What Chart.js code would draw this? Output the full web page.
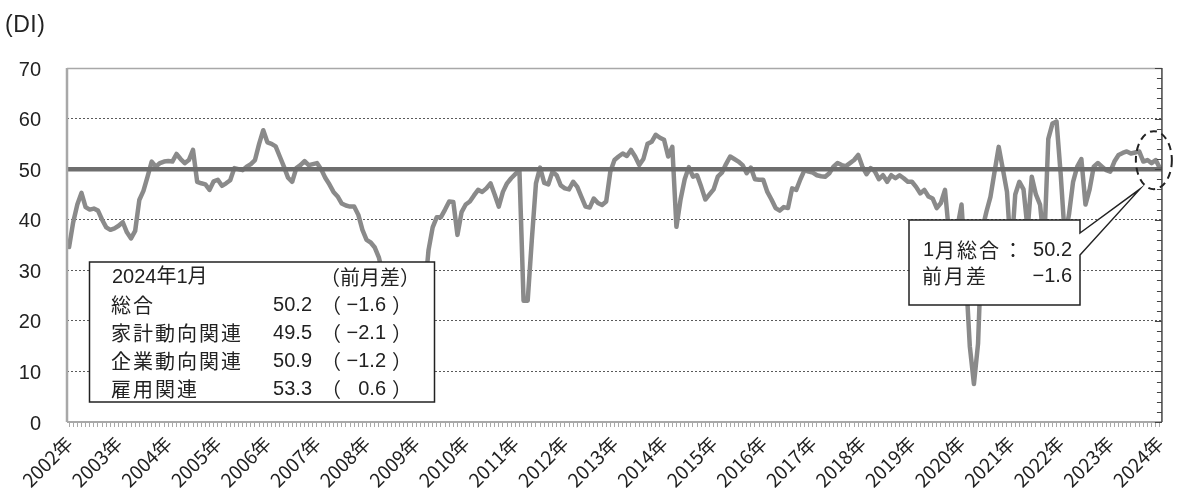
<!DOCTYPE html>
<html>
<head>
<meta charset="utf-8">
<script src="https://cdn.jsdelivr.net/npm/chart.js@4.4.1/dist/chart.umd.min.js"></script>
<style>
  html, body { margin: 0; padding: 0; background: #ffffff; }
  #wrap { position: relative; width: 1181px; height: 488px; }
  #unit { position: absolute; left: 5px; top: 11px; font: 23px "Liberation Sans", "Noto Sans CJK JP", sans-serif; letter-spacing: 0.5px; color: #222; }
</style>
</head>
<body>
<div id="wrap">
  <canvas id="chart" width="1181" height="488"></canvas>
  <div id="unit">(DI)</div>
</div>
<script>
// Year tick labels (one per January)
const yearLabels = ['2002年','2003年','2004年','2005年','2006年','2007年','2008年','2009年',
  '2010年','2011年','2012年','2013年','2014年','2015年','2016年','2017年','2018年','2019年',
  '2020年','2021年','2022年','2023年','2024年'];

// Monthly DI, January..December of each year
const di2002 = [34.6, 39.5, 43.0, 45.3, 42.5, 42.0, 42.2, 41.8, 40.0, 38.5, 38.0, 38.3];
const di2003 = [38.8, 39.5, 37.5, 36.3, 37.8, 43.9, 45.7, 48.5, 51.5, 50.5, 51.2, 51.5];
const di2004 = [51.6, 51.5, 53.0, 52.0, 51.2, 51.8, 53.8, 47.5, 47.2, 47.0, 45.9, 47.6];
const di2005 = [47.9, 46.7, 47.2, 47.8, 50.2, 50.0, 49.8, 50.5, 51.0, 51.8, 55.0, 57.7];
const di2006 = [55.3, 55.0, 54.5, 52.5, 50.5, 48.3, 47.5, 50.2, 50.8, 51.6, 50.8, 51.0];
const di2007 = [51.2, 50.0, 48.3, 47.0, 45.5, 44.6, 43.2, 42.8, 42.6, 42.6, 41.0, 38.0];
const di2008 = [36.0, 35.5, 34.5, 32.5, 29.0, 28.5, 27.5, 26.5, 29.5, 22.0, 20.5, 19.5];
const di2009 = [19.0, 19.5, 25.0, 34.0, 38.5, 40.5, 40.5, 42.0, 43.6, 43.5, 37.0, 41.5];
const di2010 = [43.0, 43.6, 44.8, 45.9, 45.5, 46.2, 47.2, 45.0, 42.6, 45.5, 47.2, 48.2];
const di2011 = [49.0, 49.8, 24.0, 24.0, 36.0, 47.2, 50.3, 47.3, 47.0, 49.5, 48.8, 46.8];
const di2012 = [46.2, 46.0, 47.5, 46.5, 44.5, 42.6, 42.4, 44.2, 43.3, 42.9, 43.6, 49.5];
const di2013 = [51.8, 52.5, 53.1, 52.6, 53.8, 52.5, 50.8, 52.0, 55.0, 55.4, 56.8, 56.2];
const di2014 = [55.8, 52.5, 54.4, 38.6, 44.0, 48.0, 50.4, 48.5, 48.8, 46.5, 44.0, 45.0];
const di2015 = [46.0, 48.5, 49.3, 51.0, 52.5, 52.0, 51.5, 50.8, 49.2, 50.3, 48.0, 47.9];
const di2016 = [47.9, 45.5, 44.0, 42.3, 41.8, 42.5, 42.3, 46.2, 45.9, 48.0, 49.8, 49.5];
const di2017 = [49.3, 48.8, 48.6, 48.5, 49.2, 50.5, 51.2, 50.8, 50.6, 51.2, 51.8, 52.8];
const di2018 = [50.5, 49.0, 50.2, 49.6, 48.0, 48.8, 47.5, 48.8, 48.2, 48.8, 48.2, 47.5];
const di2019 = [47.5, 46.5, 45.2, 45.9, 44.6, 44.2, 42.3, 43.3, 45.9, 37.0, 38.0, 38.5];
const di2020 = [43.0, 30.0, 15.0, 7.5, 15.5, 38.0, 41.5, 44.5, 49.5, 54.4, 50.0, 45.5];
const di2021 = [33.0, 45.0, 47.5, 46.0, 38.0, 48.5, 45.0, 43.0, 35.0, 56.0, 59.0, 59.4];
const di2022 = [49.0, 36.5, 41.0, 47.5, 50.5, 52.0, 43.0, 46.0, 50.5, 51.2, 50.5, 49.8];
const di2023 = [49.5, 51.5, 52.8, 53.2, 53.5, 53.1, 53.3, 53.5, 51.5, 51.8, 51.2, 51.8];
const di2024 = [50.2];

const referenceLevel = 50;

// Latest-month summary box
const summaryTitle = '2024年1月';
const summaryHeader = '（前月差）';
const summaryNames = ['総合', '家計動向関連', '企業動向関連', '雇用関連'];
const summaryValues = [50.2, 49.5, 50.9, 53.3];
const summaryChanges = [-1.6, -2.1, -1.2, 0.6];

// Callout for the latest point
const calloutLabels = ['1月総合', '前月差'];

const diSeries = [].concat(di2002, di2003, di2004, di2005, di2006, di2007, di2008, di2009,
  di2010, di2011, di2012, di2013, di2014, di2015, di2016, di2017, di2018, di2019,
  di2020, di2021, di2022, di2023, di2024);
const monthLabels = diSeries.map((_, i) => yearLabels[Math.floor(i / 12)] + (i % 12 + 1) + '月');

const NUM_FONT = '"Liberation Sans", "Noto Sans CJK JP", sans-serif';
const CJK_FONT = '"Noto Sans CJK JP", sans-serif';
const fmtChange = v => (v < 0 ? '\u2212' : '') + Math.abs(v).toFixed(1);

const overlay = {
  id: 'overlay',
  afterDatasetsDraw(chart) {
    const { ctx, chartArea: a, scales: { x, y } } = chart;
    ctx.save();

    // thick reference line at DI 50
    const yRef = y.getPixelForValue(referenceLevel);
    ctx.strokeStyle = '#6e6e6e';
    ctx.lineWidth = 4.5;
    ctx.beginPath(); ctx.moveTo(a.left, yRef); ctx.lineTo(a.right, yRef); ctx.stroke();

    // plot frame
    ctx.lineCap = 'butt';
    ctx.strokeStyle = '#a8a8a8';
    ctx.lineWidth = 2.5;
    ctx.beginPath(); ctx.moveTo(a.left, a.bottom); ctx.lineTo(a.left, a.top); ctx.stroke();
    ctx.lineWidth = 1.5;
    ctx.beginPath(); ctx.moveTo(a.left, a.top + 0.5); ctx.lineTo(a.right, a.top + 0.5); ctx.stroke();
    ctx.lineWidth = 2;
    ctx.beginPath(); ctx.moveTo(a.left, a.bottom); ctx.lineTo(a.right, a.bottom); ctx.stroke();

    // right axis with inward tick marks
    ctx.strokeStyle = '#444';
    ctx.lineWidth = 1.5;
    ctx.beginPath(); ctx.moveTo(a.right, a.top); ctx.lineTo(a.right, a.bottom); ctx.stroke();
    ctx.lineWidth = 1;
    for (let v = y.min; v <= y.max; v += 2) {
      const py = Math.round(y.getPixelForValue(v)) + 0.5;
      const len = v % 10 === 0 ? 7 : 5;
      ctx.beginPath(); ctx.moveTo(a.right, py); ctx.lineTo(a.right - len, py); ctx.stroke();
    }

    // summary box (drawn over the line)
    const bx = 89.5, by = 262, bw = 345, bh = 140;
    ctx.fillStyle = '#fff';
    ctx.fillRect(bx, by, bw, bh);
    ctx.strokeStyle = '#222';
    ctx.lineWidth = 1.5;
    ctx.strokeRect(bx, by, bw, bh);
    ctx.fillStyle = '#222';
    ctx.textBaseline = 'middle';
    const rowY = [277, 305, 333, 361, 389];
    ctx.textAlign = 'left';
    ctx.font = '20px ' + NUM_FONT;
    ctx.fillText(summaryTitle, 112, rowY[0]);
    ctx.textAlign = 'right';
    ctx.font = '20px ' + CJK_FONT;
    ctx.fillText(summaryHeader, 420, rowY[0]);
    summaryNames.forEach((name, i) => {
      const ry = rowY[i + 1];
      ctx.textAlign = 'left';
      ctx.font = '20px ' + CJK_FONT;
      ctx.letterSpacing = '2px';
      ctx.fillText(name, 111, ry);
      ctx.letterSpacing = '0px';
      ctx.fillText('（', 321, ry);
      ctx.fillText('）', 392, ry);
      ctx.font = '20px ' + NUM_FONT;
      ctx.textAlign = 'right';
      ctx.fillText(summaryValues[i].toFixed(1), 312, ry);
      ctx.fillText(fmtChange(summaryChanges[i]), 386, ry);
    });

    // callout for the latest month
    const last = diSeries.length - 1;
    const px = x.getPixelForValue(last);
    const py = y.getPixelForValue(diSeries[last]);
    const cx = px - 6, cy = py - 8;
    const tipX = cx - 14, tipY = cy + 29;
    const L = 909, T = 220, R = 1080, B = 305;
    ctx.beginPath();
    ctx.moveTo(R, 233);
    ctx.lineTo(tipX, tipY);
    ctx.lineTo(R, 255);
    ctx.lineTo(R, B);
    ctx.lineTo(L, B);
    ctx.lineTo(L, T);
    ctx.lineTo(R, T);
    ctx.closePath();
    ctx.fillStyle = '#fff';
    ctx.fill();
    ctx.strokeStyle = '#222';
    ctx.lineWidth = 1.5;
    ctx.lineJoin = 'miter';
    ctx.stroke();

    ctx.fillStyle = '#222';
    ctx.textAlign = 'left';
    ctx.font = '20px ' + NUM_FONT;
    ctx.fillText('1', 923, 250);
    ctx.font = '20px ' + CJK_FONT;
    ctx.letterSpacing = '2px';
    ctx.fillText(calloutLabels[0].slice(1), 935, 250);
    ctx.fillText(calloutLabels[1], 922, 276);
    ctx.letterSpacing = '0px';
    ctx.fillText('：', 1003, 250);
    ctx.textAlign = 'right';
    ctx.font = '20px ' + NUM_FONT;
    ctx.fillText(summaryValues[0].toFixed(1), 1072, 250);
    ctx.fillText(fmtChange(summaryChanges[0]), 1072, 276);

    // dashed ring around the latest point
    ctx.setLineDash([7, 5]);
    ctx.lineWidth = 2;
    ctx.strokeStyle = '#222';
    ctx.beginPath();
    ctx.ellipse(cx, cy, 18, 29, 0, 0, Math.PI * 2);
    ctx.stroke();
    ctx.setLineDash([]);

    ctx.restore();
  }
};

new Chart(document.getElementById('chart'), {
  type: 'line',
  data: {
    labels: monthLabels,
    datasets: [{
      data: diSeries,
      borderColor: '#8a8a8a',
      borderWidth: 4.5,
      pointRadius: 0,
      tension: 0,
      borderJoinStyle: 'round',
      borderCapStyle: 'round',
      fill: false
    }]
  },
  options: {
    responsive: false,
    animation: false,
    devicePixelRatio: 1,
    layout: { padding: { top: 68, right: 10, left: 0, bottom: 0 } },
    plugins: { legend: { display: false }, tooltip: { enabled: false } },
    scales: {
      x: {
        type: 'category',
        offset: true,
        border: { display: false },
        grid: { drawOnChartArea: false, drawTicks: true, tickLength: 5, color: '#a8a8a8', lineWidth: 1 },
        ticks: {
          autoSkip: false,
          maxRotation: 45,
          minRotation: 45,
          padding: 5,
          color: '#222',
          font: { size: 19, family: '"Liberation Sans Narrow", "Noto Sans CJK JP", sans-serif' },
          callback: (v, i) => (i % 12 === 0 ? yearLabels[i / 12] : '')
        },
        afterFit: s => { s.height = 66; }
      },
      y: {
        min: 0,
        max: 70,
        border: { display: false, dash: [2, 2] },
        grid: {
          drawTicks: false,
          lineWidth: 1,
          color: c => ([10, 20, 30, 40, 60].includes(c.tick.value) ? '#5a5a5a' : 'rgba(0,0,0,0)')
        },
        ticks: {
          stepSize: 10,
          padding: 26,
          labelOffset: 2,
          color: '#222',
          font: { size: 20, family: NUM_FONT }
        },
        afterFit: s => { s.width = 67; }
      }
    }
  },
  plugins: [overlay]
});
</script>
</body>
</html>
